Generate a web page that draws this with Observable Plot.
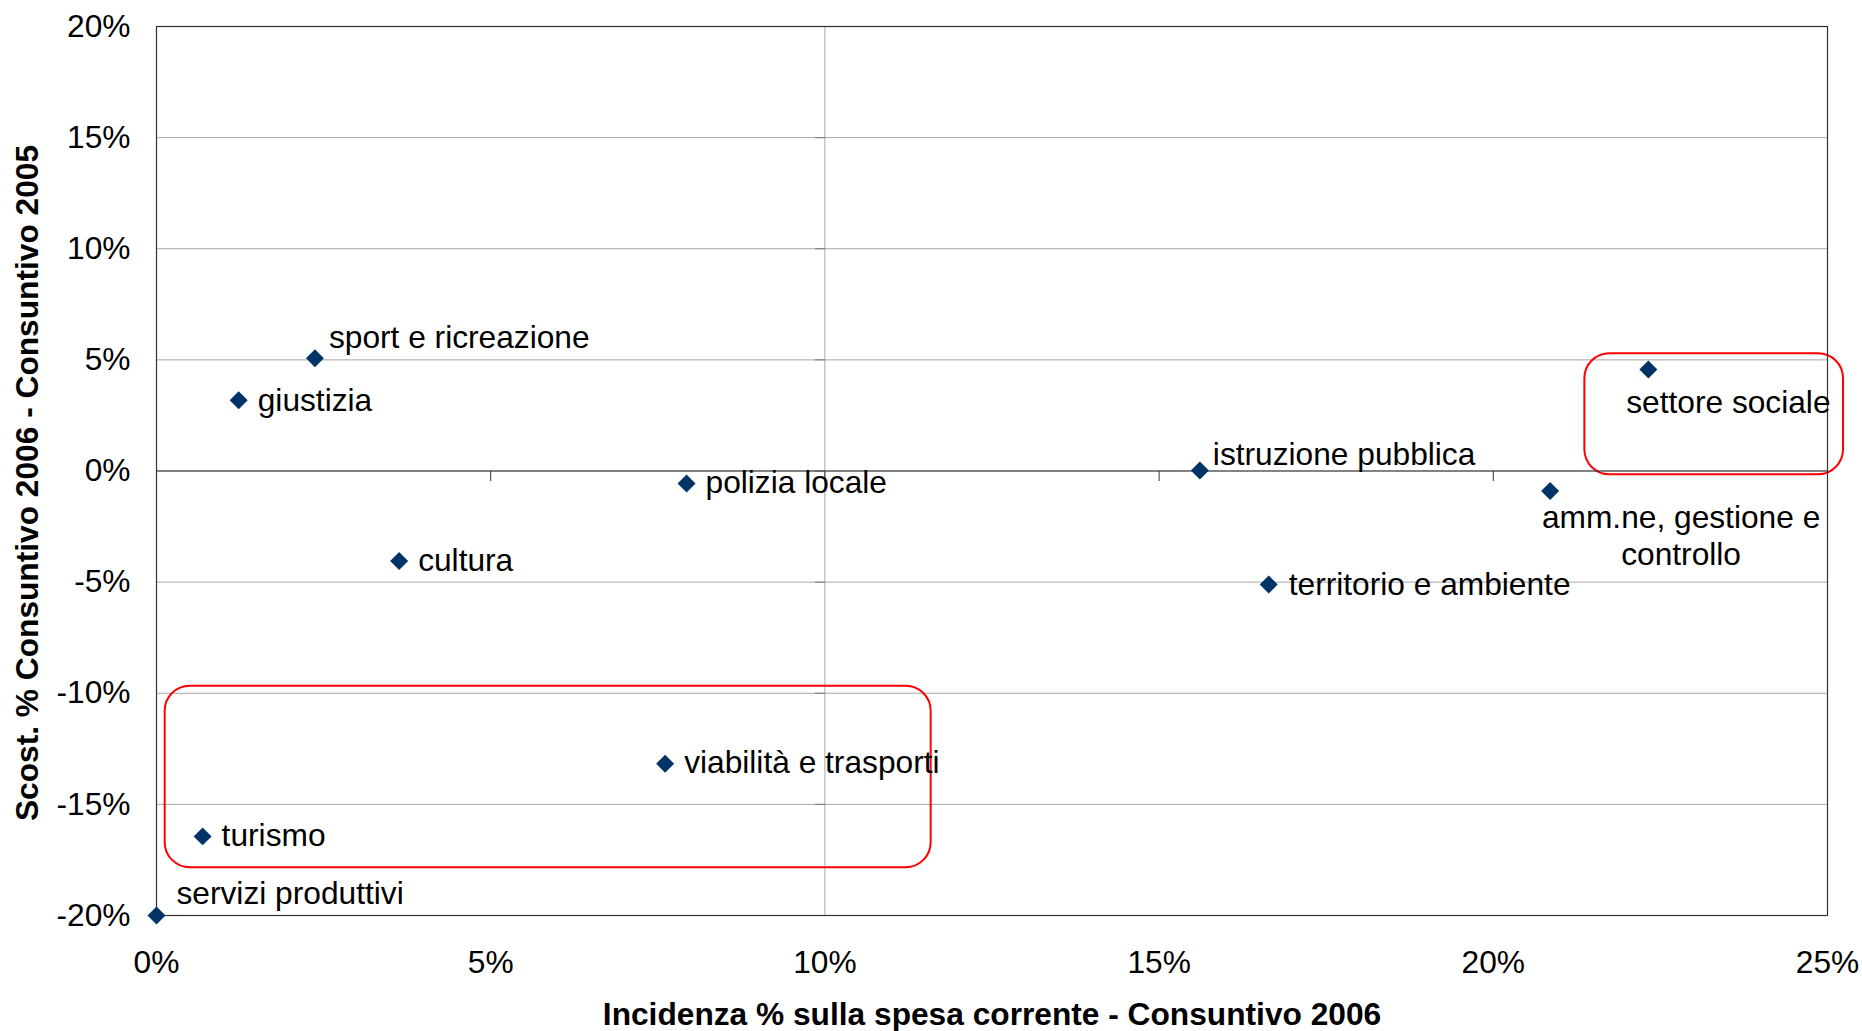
<!DOCTYPE html>
<html><head><meta charset="utf-8">
<script src="https://cdn.jsdelivr.net/npm/d3@7"></script>
<script src="https://cdn.jsdelivr.net/npm/@observablehq/plot@0.6"></script>
<style>html,body{margin:0;padding:0;background:#fff;} svg{display:block}</style>
</head><body><div id="chart"></div>
<script>
// ---- data (percent units) ----
const categories = ["servizi produttivi","turismo","giustizia","sport e ricreazione","cultura","viabilità e trasporti","polizia locale","istruzione pubblica","territorio e ambiente","amm.ne, gestione e controllo","settore sociale"];
const incidenza = [0.0, 0.69, 1.23, 2.37, 3.63, 7.61, 7.93, 15.61, 16.64, 20.85, 22.32];
const scostamento = [-20.0, -16.44, 3.18, 5.07, -4.05, -13.17, -0.56, 0.02, -5.11, -0.90, 4.57];
const labels = ["servizi produttivi","turismo","giustizia","sport e ricreazione","cultura","viabilità e trasporti","polizia locale","istruzione pubblica","territorio e ambiente","amm.ne, gestione e\ncontrollo","settore sociale"];
const xTicks = [0, 5, 10, 15, 20, 25];
const xTickLabels = ["0%","5%","10%","15%","20%","25%"];
const yTicks = [-20, -15, -10, -5, 0, 5, 10, 15, 20];
const yTickLabels = ["-20%","-15%","-10%","-5%","0%","5%","10%","15%","20%"];
const xTitle = "Incidenza % sulla spesa corrente - Consuntivo 2006";
const yTitle = "Scost. % Consuntivo 2006 - Consuntivo 2005";
// highlighted areas (red rounded boxes), in data units
const highlightX1 = [0.13, 21.37];
const highlightX2 = [11.59, 25.24];
const highlightY1 = [-17.85, -0.17];
const highlightY2 = [-9.68, 5.28];

// ---- styles ----
const FONT = "'Liberation Sans', Arial, sans-serif";
const FS = 31.7;
const labelPlacement = {
  "servizi produttivi": {dx: 20, dy: -23, textAnchor: "start"},
  "turismo": {dx: 19, dy: -2, textAnchor: "start"},
  "giustizia": {dx: 19, dy: -1.5, textAnchor: "start"},
  "sport e ricreazione": {dx: 14, dy: -22, textAnchor: "start"},
  "cultura": {dx: 19, dy: -1.5, textAnchor: "start"},
  "viabilità e trasporti": {dx: 19, dy: -2, textAnchor: "start"},
  "polizia locale": {dx: 19, dy: -2, textAnchor: "start"},
  "istruzione pubblica": {dx: 13, dy: -17.5, textAnchor: "start"},
  "territorio e ambiente": {dx: 20, dy: -1.5, textAnchor: "start"},
  "amm.ne, gestione e controllo": {dx: 131, dy: 44, textAnchor: "middle"},
  "settore sociale": {dx: 80, dy: 32, textAnchor: "middle"}
};

const table = categories.map((c, i) => ({name: c, x: incidenza[i], y: scostamento[i], label: labels[i]}));
const boxes = highlightX1.map((_, i) => ({x1: highlightX1[i], x2: highlightX2[i], y1: highlightY1[i], y2: highlightY2[i]}));

const tickDown = {draw(ctx) { ctx.moveTo(0, 0); ctx.lineTo(0, 10); }};
const tickLeft = {draw(ctx) { ctx.moveTo(0, 0); ctx.lineTo(-10, 0); }};

const labelMarks = table.map(d => {
  const p = labelPlacement[d.name];
  return Plot.text([d], {x: "x", y: "y", text: "label", dx: p.dx, dy: p.dy, textAnchor: p.textAnchor,
    lineHeight: 1.16, fontSize: FS, fill: "#000"});
});

const chart = Plot.plot({
  width: 1862, height: 1031,
  marginLeft: 156, marginRight: 35, marginTop: 26, marginBottom: 116,
  style: {fontFamily: FONT, fontSize: FS + "px", background: "#fff", color: "#000"},
  x: {domain: [0, 25], label: null},
  y: {domain: [-20, 20], label: null},
  marks: [
    Plot.gridY({ticks: yTicks, stroke: "#a6a6a6", strokeOpacity: 1, strokeWidth: 1}),
    Plot.ruleX([10], {stroke: "#a6a6a6", strokeWidth: 1}),
    Plot.dot(yTicks, {x: () => 10, y: d => d, symbol: tickLeft, r: 5, fill: "none", stroke: "#777", strokeWidth: 1}),
    Plot.rect(boxes, {x1: "x1", x2: "x2", y1: "y1", y2: "y2", fill: "none", stroke: "#ff0000", strokeWidth: 2, rx: 25, ry: 25}),
    Plot.ruleY([0], {stroke: "#333", strokeWidth: 1.2}),
    Plot.dot(xTicks, {x: d => d, y: () => 0, symbol: tickDown, r: 5, fill: "none", stroke: "#333", strokeWidth: 1}),
    Plot.frame({stroke: "#333", strokeWidth: 1.2}),
    Plot.dot(table, {x: "x", y: "y", symbol: "diamond2", r: 8.1, fill: "#003366", stroke: "none"}),
    ...labelMarks,
    Plot.axisY({ticks: yTicks, tickFormat: d => yTickLabels[yTicks.indexOf(d)], tickSize: 0, tickPadding: 26, fontSize: FS, label: null, fill: "#000"}),
    Plot.axisX({ticks: xTicks, tickFormat: d => xTickLabels[xTicks.indexOf(d)], tickSize: 0, tickPadding: 35, fontSize: FS, label: null, fill: "#000"}),
    Plot.text([xTitle], {text: d => d, frameAnchor: "bottom", textAnchor: "middle", lineAnchor: "middle", dy: 99, fontWeight: "bold", fontSize: FS, fill: "#000"}),
    Plot.text([yTitle], {text: d => d, frameAnchor: "left", textAnchor: "middle", lineAnchor: "middle", rotate: -90, dx: -129, dy: 12, fontWeight: "bold", fontSize: FS, fill: "#000"})
  ]
});
document.getElementById("chart").appendChild(chart);
</script>
</body></html>
